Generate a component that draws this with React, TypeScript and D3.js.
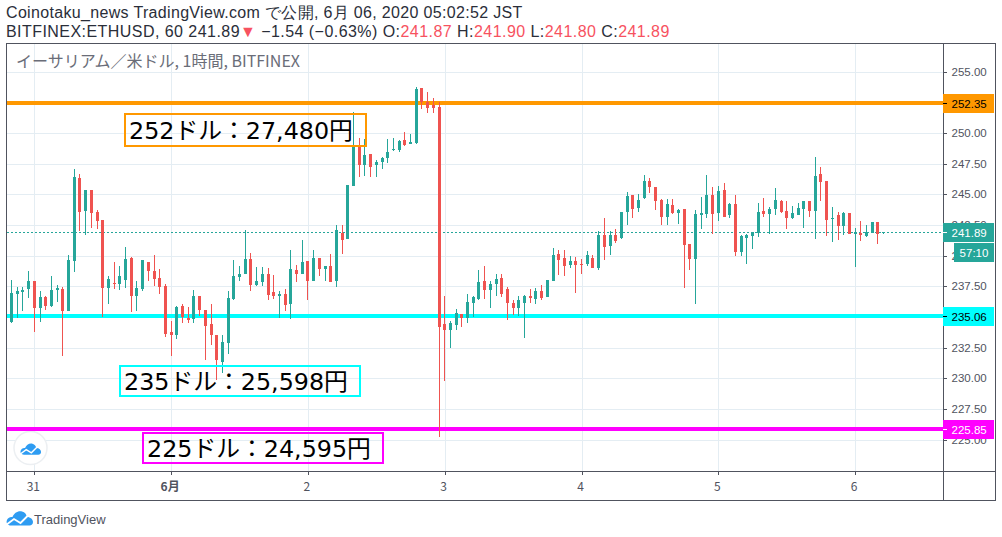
import React from 'react';
import * as d3 from 'd3';

// hourly candles
const opens = [
  234.61,236.87,237.03,237.28,237.93,235.73,236.62,235.89,237.20,237.28,
  235.48,239.56,246.33,243.64,245.35,243.56,242.91,237.36,237.77,237.69,
  238.01,239.81,236.71,237.28,239.48,238.75,238.17,237.52,233.77,233.53,
  235.89,234.91,234.83,236.71,235.56,234.42,233.53,231.32,232.87,236.46,
  238.25,238.50,239.72,237.60,237.84,238.50,237.03,236.70,236.86,236.05,
  238.82,238.50,239.56,237.92,239.80,238.90,239.15,237.92,241.84,241.35,
  245.67,248.94,247.39,248.28,247.39,247.63,247.96,248.61,248.61,249.43,
  249.10,249.18,253.67,252.53,252.28,252.12,234.42,233.93,234.34,235.23,
  234.91,236.13,236.46,237.93,237.19,237.68,238.17,237.27,236.13,235.72,
  236.13,236.70,236.46,237.11,236.62,237.93,240.13,239.80,239.23,239.56,
  239.31,239.31,239.80,238.99,241.68,240.78,241.68,241.43,243.55,244.94,
  243.88,244.70,246.08,245.59,244.53,243.14,244.12,243.47,243.80,240.94,
  239.72,243.31,243.39,244.94,243.47,245.35,243.31,244.21,240.29,241.43,
  241.59,241.84,243.63,243.39,243.80,244.45,243.63,243.06,243.31,243.80,
  244.45,243.63,246.65,246.08,242.98,243.31,242.41,243.47,241.76,241.84,
  241.59,241.84,242.74,241.87,
];
const closes = [
  236.92,237.11,237.20,237.93,235.73,236.62,235.89,237.20,237.36,235.48,
  239.64,246.41,243.56,245.35,243.48,242.82,237.36,238.09,237.69,238.34,
  239.72,236.71,237.36,239.64,238.75,238.09,237.44,233.61,233.53,235.81,
  234.99,234.75,236.71,235.56,234.26,233.53,231.49,232.95,236.54,238.33,
  238.50,239.72,237.60,237.92,238.50,236.78,236.70,236.86,235.97,238.90,
  238.50,239.47,237.92,239.80,238.90,239.15,237.84,242.08,241.27,245.76,
  248.94,247.39,248.20,247.22,247.63,247.96,248.45,248.69,249.34,249.02,
  249.26,253.59,252.53,252.04,252.04,234.17,233.93,234.50,235.31,234.91,
  236.21,236.62,237.84,237.19,237.68,238.09,236.87,236.13,235.72,236.38,
  236.70,236.54,237.11,236.54,238.01,240.05,239.64,239.15,239.56,239.23,
  239.23,240.05,238.99,241.68,240.70,241.68,241.19,243.55,244.86,243.80,
  244.53,246.08,245.59,244.45,243.14,244.21,243.47,243.72,240.86,239.72,
  243.39,243.47,244.94,243.39,245.27,243.14,244.21,240.29,241.59,241.68,
  241.92,243.55,243.39,243.80,244.53,243.55,243.06,243.47,243.88,244.45,
  243.63,246.49,246.00,242.90,243.06,242.41,243.47,241.76,241.92,241.68,
  241.92,242.74,241.76,241.89,
];
const highs = [
  238.01,237.44,237.44,238.75,237.93,237.11,236.71,238.34,237.60,237.44,
  240.05,247.07,246.66,245.35,245.35,243.72,242.91,238.34,239.48,239.15,
  240.70,239.89,237.93,239.64,239.48,240.05,238.91,237.69,234.67,235.89,
  236.05,235.81,237.20,236.71,235.56,236.05,233.53,233.53,237.11,239.64,
  239.15,242.08,240.21,239.07,239.07,238.98,238.41,237.11,237.27,240.45,
  239.23,241.27,239.56,240.45,239.80,239.15,240.13,242.49,242.49,245.76,
  251.74,249.59,249.51,248.28,247.79,248.04,249.51,249.59,249.43,250.08,
  249.92,253.75,253.67,253.34,252.85,252.53,236.70,234.66,235.64,235.23,
  236.87,236.70,238.82,239.15,237.93,238.50,238.50,237.44,236.38,236.70,
  236.78,237.27,237.35,237.60,238.01,240.62,240.45,240.45,239.96,239.88,
  239.72,240.37,240.05,242.00,243.06,242.00,242.17,243.55,245.19,244.94,
  245.02,246.57,246.33,245.59,244.61,244.61,244.61,243.80,243.80,240.94,
  243.72,244.78,246.57,245.59,245.67,245.92,244.29,244.94,241.68,241.76,
  241.92,244.29,244.69,243.96,245.51,244.53,244.45,244.04,244.29,244.45,
  244.45,248.04,247.22,246.08,243.96,243.55,243.55,243.47,242.25,242.82,
  242.49,242.74,242.74,241.90,
];
const lows = [
  234.53,234.94,235.48,236.54,233.77,234.59,235.56,235.81,236.22,231.81,
  235.48,238.66,242.01,241.68,242.25,242.17,234.99,236.05,237.28,237.20,
  237.36,235.40,235.48,237.11,237.93,237.52,236.87,233.36,231.81,233.20,
  234.50,234.50,234.50,235.08,231.49,232.71,229.85,230.45,231.98,236.37,
  237.92,238.50,237.11,237.52,237.52,236.37,236.46,234.91,235.48,234.82,
  237.84,238.50,236.37,237.92,238.33,237.92,237.84,237.44,240.13,241.35,
  245.67,246.41,246.49,246.41,246.41,247.06,247.55,248.53,248.45,248.94,
  249.10,249.10,251.95,251.63,251.63,225.20,229.77,232.46,233.93,234.17,
  234.50,234.99,236.38,236.46,235.72,236.70,236.62,234.74,235.15,235.07,
  233.28,236.13,236.05,236.38,236.62,237.93,238.42,238.33,238.99,236.95,
  238.50,239.15,238.99,238.82,239.64,240.05,241.03,241.35,242.49,243.06,
  243.55,244.61,245.10,243.72,242.49,242.49,243.39,242.57,237.35,238.82,
  236.05,242.17,243.06,241.76,242.82,243.14,243.06,239.96,239.96,239.31,
  240.53,241.51,243.14,241.76,243.31,243.47,242.17,242.98,243.31,242.25,
  243.14,241.35,244.45,241.59,241.11,241.27,241.68,241.76,239.07,241.19,
  241.51,241.84,240.94,241.80,
];

const priceTicks = [255, 252.5, 250, 247.5, 245, 242.5, 240, 237.5, 235, 232.5, 230, 227.5, 225];
const labelledTicks = [255, 250, 247.5, 245, 242.5, 240, 237.5, 232.5, 230, 227.5, 225];
const dayIndexes = [4, 28, 52, 76, 100, 124, 148];
const dayLabels = ['31', '6月', '2', '3', '4', '5', '6'];

const levelPrices = [252.47, 235.06, 225.85];
const levelNames = ['252.35', '235.06', '225.85'];
const levelColors = ['#ff9800', '#00ffff', '#ff00ff'];
const levelTagText = ['#000', '#000', '#fff'];

const notes = ['252ドル：27,480円', '235ドル：25,598円', '225ドル：24,595円'];
const noteBoxes = [
  { x: 125, y: 114, w: 241, h: 32 },
  { x: 120, y: 366, w: 240, h: 30 },
  { x: 143, y: 433, w: 240, h: 30 },
];
const noteColors = ['#ff9800', '#00ffff', '#ff00ff'];

const lastPrice = 241.89;
const UP = '#26a69a';
const DOWN = '#ef5350';
const GRID = '#e4edf3';
const FRAME = '#50535e';
const RED = '#f7525f';
const SANS = '"Liberation Sans", Arial, sans-serif';
const JP = '"Noto Sans CJK JP", sans-serif';

const left = 7;
const axisX = 943;
const rightX = 995;
const top = 43.5;
const paneBottom = 471.5;
const bottom = 500.5;

const x = d3.scaleLinear().domain([0, 148]).range([11.5, 855.1]);
const y = d3.scaleLinear().domain([255, 225]).range([71.7, 439.5]);

const Logo = ({ tx, ty, k }: { tx: number; ty: number; k: number }) => (
  <g transform={`translate(${tx},${ty}) scale(${k})`}>
    <path
      d="M5 15C1.5 15 0 12.5 0.8 10C1.5 7.5 4 6 6.5 6.5C8 2.5 12 0 16 1C19 1.8 20.5 4 21 6.5C24.5 6.5 27 9 27 11.5C27 13.5 25.5 15 23.5 15Z"
      fill="#2e9cf2"
    />
    <path d="M0 14.5L8 8.5L14.5 12.5L22 5" fill="none" stroke="#fff" strokeWidth="1.8" />
  </g>
);

export default function App() {
  const tagY = (p: number) => Math.round(y(p));

  return (
    <svg
      width={1002}
      height={537}
      style={{ position: 'absolute', left: 0, top: 0, background: '#fff', fontFamily: SANS }}
    >
      {/* header */}
      <text x={6} y={17.5} fontSize={16} fill="#2a2e39" letterSpacing={0.33}>
        Coinotaku_news TradingView.com で公開, 6月 06, 2020 05:02:52 JST
      </text>
      <text x={6} y={36.5} fontSize={16} fill="#2a2e39" letterSpacing={0.45}>
        <tspan>BITFINEX:ETHUSD, 60 241.89</tspan>
        <tspan fill={RED}>▼</tspan>
        <tspan> −1.54 (−0.63%) O:</tspan>
        <tspan fill={RED}>241.87</tspan>
        <tspan> H:</tspan>
        <tspan fill={RED}>241.90</tspan>
        <tspan> L:</tspan>
        <tspan fill={RED}>241.80</tspan>
        <tspan> C:</tspan>
        <tspan fill={RED}>241.89</tspan>
      </text>

      {/* grid */}
      <g shapeRendering="crispEdges" stroke={GRID}>
        {priceTicks.map(p => (
          <line key={p} x1={left} x2={axisX} y1={Math.round(y(p)) + 0.5} y2={Math.round(y(p)) + 0.5} />
        ))}
        {dayIndexes.map(i => (
          <line key={i} x1={Math.round(x(i)) + 0.5} x2={Math.round(x(i)) + 0.5} y1={top} y2={paneBottom} />
        ))}
      </g>

      {/* watermark */}
      <circle cx={30.5} cy={448} r={16.5} fill="#fff" stroke="#eceff2" strokeWidth={1.5} />
      <Logo tx={20} ty={443} k={0.78} />

      <text x={16} y={67} fontSize={16} fill="#6a6d78" fontFamily={JP}>
        イーサリアム／米ドル, 1時間, BITFINEX
      </text>

      {/* horizontal levels */}
      {levelPrices.map((p, i) => (
        <line
          key={p}
          x1={left}
          x2={axisX}
          y1={Math.round(y(p))}
          y2={Math.round(y(p))}
          stroke={levelColors[i]}
          strokeWidth={4}
          shapeRendering="crispEdges"
        />
      ))}
      <line
        x1={left}
        x2={axisX}
        y1={Math.round(y(lastPrice)) + 0.5}
        y2={Math.round(y(lastPrice)) + 0.5}
        stroke={UP}
        strokeDasharray="2 2"
        shapeRendering="crispEdges"
      />

      {/* candles */}
      <g shapeRendering="crispEdges">
        {opens.map((o, i) => {
          const c = closes[i];
          const color = c >= o ? UP : DOWN;
          const bx = Math.round(x(i) - 1.5);
          const bodyTop = Math.round(y(Math.max(o, c)));
          const bodyH = Math.max(1, Math.round(y(Math.min(o, c))) - bodyTop);
          const wickTop = Math.round(y(highs[i]));
          const wickBottom = Math.round(y(lows[i]));
          return (
            <g key={i} fill={color}>
              <rect x={bx + 1} y={wickTop} width={1} height={Math.max(1, wickBottom - wickTop)} />
              <rect x={bx} y={bodyTop} width={3} height={bodyH} />
            </g>
          );
        })}
      </g>

      {/* note boxes */}
      {notes.map((t, i) => {
        const b = noteBoxes[i];
        return (
          <g key={t}>
            <rect x={b.x} y={b.y} width={b.w} height={b.h} fill="none" stroke={noteColors[i]} strokeWidth={2} />
            <text
              x={b.x + 4}
              y={b.y + b.h / 2 + 9}
              fontSize={23.8}
              fill="#000"
              fontFamily='"DejaVu Sans", "Noto Sans CJK JP", sans-serif'
            >
              {t}
            </text>
          </g>
        );
      })}

      {/* frame */}
      <g fill="none" stroke={FRAME} shapeRendering="crispEdges">
        <rect x={6.5} y={top} width={rightX - 6.5} height={bottom - top} />
        <line x1={axisX + 0.5} x2={axisX + 0.5} y1={top} y2={bottom} />
        <line x1={6.5} x2={rightX} y1={paneBottom} y2={paneBottom} />
      </g>

      {/* price axis */}
      {priceTicks.map(p => (
        <line
          key={p}
          x1={axisX}
          x2={axisX + 4}
          y1={Math.round(y(p)) + 0.5}
          y2={Math.round(y(p)) + 0.5}
          stroke={FRAME}
          shapeRendering="crispEdges"
        />
      ))}
      {labelledTicks.map(p => (
        <text key={p} x={951.5} y={y(p) + 4} fontSize={11.5} fill={FRAME} fontFamily='"Liberation Sans"'>
          {p.toFixed(2)}
        </text>
      ))}

      {/* level tags */}
      {levelPrices.map((p, i) => (
        <g key={p}>
          <rect x={axisX} y={tagY(p) - 9} width={51} height={19} fill={levelColors[i]} />
          <line
            x1={axisX}
            x2={axisX + 4}
            y1={tagY(p) + 0.5}
            y2={tagY(p) + 0.5}
            stroke={levelTagText[i]}
            shapeRendering="crispEdges"
          />
          <text x={951.5} y={tagY(p) + 4.5} fontSize={11.5} fill={levelTagText[i]}>
            {levelNames[i]}
          </text>
        </g>
      ))}
      <rect x={axisX} y={223} width={51} height={19} fill={UP} />
      <line x1={axisX} x2={axisX + 4} y1={232.5} y2={232.5} stroke="#fff" shapeRendering="crispEdges" />
      <text x={951.5} y={236.5} fontSize={11.5} fill="#fff">241.89</text>
      <rect x={954} y={243} width={40} height={19} fill={UP} />
      <text x={974} y={256.5} fontSize={11.5} fill="#fff" textAnchor="middle">57:10</text>

      {/* time axis */}
      {dayIndexes.map((i, n) => (
        <g key={i}>
          <line
            x1={Math.round(x(i)) + 0.5}
            x2={Math.round(x(i)) + 0.5}
            y1={paneBottom}
            y2={paneBottom + 3}
            stroke={FRAME}
            shapeRendering="crispEdges"
          />
          <text
            x={x(i) - 1}
            y={490.5}
            fontSize={12}
            textAnchor="middle"
            fill={FRAME}
            fontWeight={n === 1 ? 700 : 400}
            fontFamily={JP}
          >
            {dayLabels[n]}
          </text>
        </g>
      ))}

      {/* footer logo */}
      <Logo tx={6} ty={510.5} k={1} />
      <text x={34} y={523.5} fontSize={13} fill="#50535e">TradingView</text>
    </svg>
  );
}
